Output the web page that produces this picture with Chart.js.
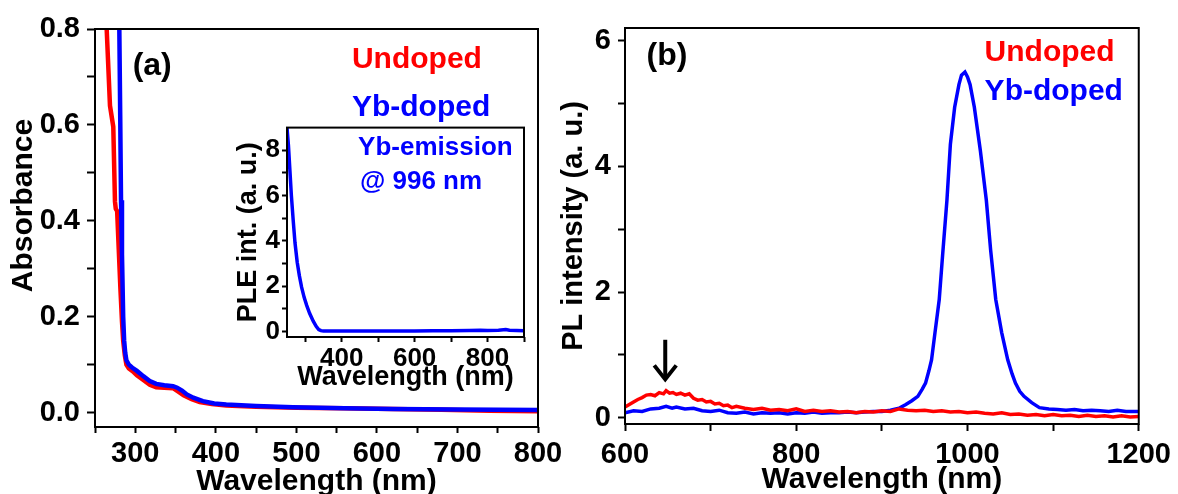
<!DOCTYPE html>
<html>
<head>
<meta charset="utf-8">
<script src="https://cdn.jsdelivr.net/npm/chart.js@4.4.0/dist/chart.umd.min.js"></script>
<style>
  body { margin: 0; background: #fff; }
  #wrap { position: relative; width: 1178px; height: 494px; overflow: hidden; background: #fff; }
  canvas { position: absolute; }
</style>
</head>
<body>
<div id="wrap">
  <canvas id="absChart" width="600" height="494" style="left:0px;top:0px"></canvas>
  <canvas id="pleChart" width="310" height="285" style="left:226px;top:110px"></canvas>
  <canvas id="plChart" width="618" height="494" style="left:560px;top:0px"></canvas>
</div>
<script>
// (a) absorbance, wavelength in nm
var absUndopedX = [261, 264.5, 268.6, 272.7, 274.8, 275.8, 277.5, 279.5, 281.5, 283.5, 285, 287, 289, 292, 297, 302, 310, 318, 326, 336, 347, 353, 360, 370, 380, 395, 413, 450, 500, 560, 620, 680, 740, 800];
var absUndopedY = [0.95, 0.80, 0.64, 0.596, 0.44, 0.425, 0.42, 0.34, 0.26, 0.19, 0.15, 0.12, 0.10, 0.092, 0.086, 0.078, 0.068, 0.058, 0.053, 0.052, 0.051, 0.044, 0.036, 0.028, 0.022, 0.018, 0.015, 0.012, 0.010, 0.009, 0.0077, 0.006, 0.004, 0.003];
var absYbX = [279, 280.2, 281.3, 282.3, 283.5, 285, 286.2, 287.5, 289, 292, 296, 302, 310, 318, 326, 336, 347, 352, 358, 364, 372, 384, 398, 413, 450, 496, 560, 620, 700, 800];
var absYbY = [0.95, 0.80, 0.62, 0.443, 0.33, 0.20, 0.15, 0.125, 0.109, 0.10, 0.094, 0.087, 0.076, 0.066, 0.06, 0.057, 0.055, 0.052, 0.046, 0.038, 0.031, 0.024, 0.019, 0.017, 0.014, 0.011, 0.009, 0.0077, 0.0066, 0.0056];

// inset: PLE monitored at 996 nm
var pleX = [250, 254, 258, 262, 267, 272, 278, 284, 290, 297, 304, 312, 322, 330, 337, 343, 350, 380, 420, 460, 500, 550, 600, 650, 700, 750, 780, 800, 830, 850, 860, 880, 900];
var pleY = [9.0, 8.2, 7.1, 6.0, 4.9, 3.9, 3.05, 2.45, 1.95, 1.5, 1.15, 0.8, 0.45, 0.22, 0.08, 0.03, 0.02, 0.02, 0.01, 0.02, 0.01, 0.02, 0.02, 0.03, 0.03, 0.04, 0.05, 0.04, 0.05, 0.08, 0.05, 0.04, 0.03];

// (b) PL intensity
var plUndopedX = [600, 605, 610, 615, 620, 625, 630, 635, 640, 645, 648, 652, 656, 660, 665, 670, 675, 680, 685, 690, 695, 700, 705, 710, 715, 720, 725, 730, 740, 750, 760, 770, 780, 790, 800, 810, 820, 830, 840, 850, 860, 870, 880, 890, 900, 910, 920, 930, 940, 950, 960, 970, 980, 990, 1000, 1010, 1020, 1030, 1040, 1050, 1060, 1070, 1080, 1090, 1100, 1110, 1120, 1130, 1140, 1150, 1160, 1170, 1180, 1190, 1200];
var plUndopedY = [0.17, 0.21, 0.25, 0.29, 0.32, 0.36, 0.37, 0.35, 0.40, 0.38, 0.43, 0.39, 0.40, 0.37, 0.39, 0.36, 0.38, 0.31, 0.28, 0.29, 0.25, 0.26, 0.22, 0.23, 0.19, 0.20, 0.16, 0.18, 0.15, 0.13, 0.15, 0.12, 0.13, 0.11, 0.14, 0.10, 0.12, 0.10, 0.11, 0.09, 0.10, 0.08, 0.10, 0.09, 0.11, 0.10, 0.14, 0.12, 0.11, 0.12, 0.10, 0.11, 0.09, 0.10, 0.08, 0.09, 0.07, 0.06, 0.08, 0.05, 0.06, 0.04, 0.05, 0.03, 0.05, 0.03, 0.04, 0.02, 0.04, 0.02, 0.03, 0.01, 0.03, 0.01, 0.02];
var plYbX = [600, 610, 620, 630, 640, 648, 655, 660, 670, 680, 690, 700, 710, 720, 730, 740, 750, 760, 770, 780, 790, 800, 810, 820, 830, 840, 850, 860, 870, 880, 890, 900, 910, 920, 928, 935, 942, 947, 951, 955, 958, 962, 967, 971, 976, 980, 985, 990, 993, 997, 1000, 1003, 1008, 1015, 1022, 1027, 1033, 1040, 1047, 1052, 1056, 1061, 1066, 1075, 1084, 1095, 1105, 1115, 1125, 1135, 1145, 1155, 1165, 1175, 1185, 1200];
var plYbY = [0.08, 0.11, 0.10, 0.14, 0.15, 0.18, 0.15, 0.17, 0.14, 0.15, 0.11, 0.10, 0.12, 0.08, 0.07, 0.09, 0.06, 0.08, 0.07, 0.08, 0.06, 0.08, 0.07, 0.09, 0.07, 0.08, 0.08, 0.09, 0.08, 0.09, 0.10, 0.10, 0.12, 0.15, 0.21, 0.27, 0.34, 0.45, 0.55, 0.75, 0.92, 1.35, 1.88, 2.60, 3.46, 4.35, 4.94, 5.30, 5.45, 5.50, 5.42, 5.30, 4.94, 4.25, 3.46, 2.67, 1.88, 1.35, 0.92, 0.70, 0.55, 0.42, 0.34, 0.24, 0.16, 0.14, 0.13, 0.12, 0.13, 0.11, 0.12, 0.11, 0.10, 0.12, 0.10, 0.10];

// ticks (all tick marks) and the ones that carry a label
var absXTicks = [250, 300, 350, 400, 450, 500, 550, 600, 650, 700, 750, 800];
var absXLabeled = [300, 400, 500, 600, 700, 800];
var absYTicks = [0, 0.1, 0.2, 0.3, 0.4, 0.5, 0.6, 0.7, 0.8];
var absYLabeled = [0, 0.2, 0.4, 0.6, 0.8];
var pleXTicks = [300, 400, 500, 600, 700, 800, 900];
var pleXLabeled = [400, 600, 800];
var pleYTicks = [0, 1, 2, 3, 4, 5, 6, 7, 8];
var pleYLabeled = [0, 2, 4, 6, 8];
var plXTicks = [600, 700, 800, 900, 1000, 1100, 1200];
var plXLabeled = [600, 800, 1000, 1200];
var plYTicks = [0, 1, 2, 3, 4, 5, 6];
var plYLabeled = [0, 2, 4, 6];

var FONT = 'Arial, "Liberation Sans", sans-serif';
var RED = '#ff0000';
var BLUE = '#0000ff';

Chart.defaults.font.family = FONT;
Chart.defaults.font.weight = 'bold';
Chart.defaults.color = '#000';

function pairs(xs, ys) {
    return xs.map(function (x, i) { return { x: x, y: ys[i] }; });
}

function line(xs, ys, color, width) {
    return {
        data: pairs(xs, ys),
        showLine: true,
        borderColor: color,
        backgroundColor: color,
        borderWidth: width,
        pointRadius: 0,
        tension: 0
    };
}

// one axis: fixed tick list, labels only on some of them
function axis(o) {
    return {
        type: 'linear',
        min: o.min,
        max: o.max,
        afterBuildTicks: function (s) {
            s.ticks = o.ticks.map(function (v) { return { value: v }; });
        },
        afterFit: function (s) {
            if (o.width !== undefined) s.width = o.width;
            if (o.height !== undefined) s.height = o.height;
        },
        border: { display: false },
        grid: {
            drawOnChartArea: false,
            drawTicks: true,
            tickLength: o.tickLength,
            tickColor: '#000',
            tickWidth: 2
        },
        ticks: {
            autoSkip: false,
            maxRotation: 0,
            padding: o.pad,
            color: '#000',
            font: { size: o.size, weight: 'bold' },
            callback: function (v) {
                return o.labeled.indexOf(v) >= 0 ? o.fmt(v) : '';
            }
        },
        title: o.title ? {
            display: true,
            text: o.title,
            color: '#000',
            font: { size: o.titleSize, weight: 'bold' },
            padding: o.titlePad
        } : { display: false }
    };
}

var framePlugin = {
    id: 'frame',
    afterDatasetsDraw: function (chart) {
        var a = chart.chartArea;
        var ctx = chart.ctx;
        ctx.save();
        ctx.lineWidth = 2;
        ctx.strokeStyle = '#000';
        ctx.strokeRect(a.left, a.top, a.right - a.left, a.bottom - a.top);
        ctx.restore();
    }
};

// text labels and the arrow, placed through the chart's own scales
var notesPlugin = {
    id: 'notes',
    afterDraw: function (chart, args, opts) {
        var ctx = chart.ctx;
        var xs = chart.scales.x;
        var ys = chart.scales.y;
        (opts.items || []).forEach(function (it) {
            var px = it.px !== undefined ? it.px : xs.getPixelForValue(it.x);
            var py = it.py !== undefined ? it.py : ys.getPixelForValue(it.y);
            ctx.save();
            if (it.arrow) {
                var py2 = ys.getPixelForValue(it.y2);
                ctx.strokeStyle = '#000';
                ctx.lineWidth = 4;
                ctx.lineCap = 'butt';
                ctx.beginPath();
                ctx.moveTo(px, py);
                ctx.lineTo(px, py2 - 2);
                ctx.stroke();
                ctx.beginPath();
                ctx.moveTo(px - 11, py2 - 14);
                ctx.lineTo(px, py2);
                ctx.lineTo(px + 11, py2 - 14);
                ctx.stroke();
            } else {
                ctx.translate(px, py);
                if (it.rot) ctx.rotate(it.rot);
                ctx.font = 'bold ' + it.size + 'px ' + FONT;
                ctx.fillStyle = it.color || '#000';
                ctx.textAlign = it.align || 'center';
                ctx.textBaseline = 'middle';
                ctx.fillText(it.text, 0, 0);
            }
            ctx.restore();
        });
    }
};

function fmt1(v) { return v.toFixed(1); }
function fmt0(v) { return String(v); }

// panel (a)
new Chart(document.getElementById('absChart'), {
    type: 'scatter',
    data: {
        datasets: [
            line(absYbX, absYbY, BLUE, 4.5),
            line(absUndopedX, absUndopedY, RED, 4.5)
        ]
    },
    options: {
        responsive: false,
        animation: false,
        layout: { padding: { top: 29, right: 62, left: 0, bottom: 0 } },
        scales: {
            x: axis({ min: 250, max: 800, ticks: absXTicks, labeled: absXLabeled, fmt: fmt0,
                      height: 67, tickLength: 6, pad: 4, size: 29,
                      title: 'Wavelength (nm)', titleSize: 30, titlePad: { top: 0, bottom: -6 } }),
            y: axis({ min: -0.03, max: 0.8, ticks: absYTicks, labeled: absYLabeled, fmt: fmt1,
                      width: 95, tickLength: 8, pad: 7, size: 29 })
        },
        plugins: {
            legend: { display: false },
            tooltip: { enabled: false },
            notes: {
                items: [
                    { text: 'Absorbance', px: 24, y: 0.432, size: 30, rot: -Math.PI / 2 },
                    { text: '(a)', x: 321, y: 0.723, size: 32 },
                    { text: 'Undoped', x: 569, y: 0.735, size: 30, color: RED, align: 'left' },
                    { text: 'Yb-doped', x: 569, y: 0.635, size: 30, color: BLUE, align: 'left' }
                ]
            }
        }
    },
    plugins: [framePlugin, notesPlugin]
});

// inset of (a)
new Chart(document.getElementById('pleChart'), {
    type: 'scatter',
    data: {
        datasets: [line(pleX, pleY, BLUE, 3.5)]
    },
    options: {
        responsive: false,
        animation: false,
        layout: { padding: { top: 13, right: 12, left: 0, bottom: 0 } },
        scales: {
            x: axis({ min: 250, max: 900, ticks: pleXTicks, labeled: pleXLabeled, fmt: fmt0,
                      height: 58, tickLength: 5, pad: 1, size: 26,
                      title: 'Wavelength (nm)', titleSize: 27, titlePad: { top: 0, bottom: 1 } }),
            y: axis({ min: -0.25, max: 9, ticks: pleYTicks, labeled: pleYLabeled, fmt: fmt0,
                      width: 61, tickLength: 5, pad: 2, size: 26,
                      title: 'PLE int. (a. u.)', titleSize: 27, titlePad: { top: 6, bottom: 0 } })
        },
        plugins: {
            legend: { display: false },
            tooltip: { enabled: false },
            notes: {
                items: [
                    { text: 'Yb-emission', x: 445, y: 8.12, size: 26, color: BLUE, align: 'left' },
                    { text: '@ 996 nm', x: 450, y: 6.6, size: 26, color: BLUE, align: 'left' }
                ]
            }
        }
    },
    plugins: [framePlugin, notesPlugin]
});

// panel (b)
new Chart(document.getElementById('plChart'), {
    type: 'scatter',
    data: {
        datasets: [
            line(plUndopedX, plUndopedY, RED, 3.5),
            line(plYbX, plYbY, BLUE, 3.5)
        ]
    },
    options: {
        responsive: false,
        animation: false,
        layout: { padding: { top: 28, right: 36, left: 0, bottom: 0 } },
        scales: {
            x: axis({ min: 600, max: 1200, ticks: plXTicks, labeled: plXLabeled, fmt: fmt0,
                      height: 70, tickLength: 7, pad: 7, size: 29,
                      title: 'Wavelength (nm)', titleSize: 30, titlePad: { top: 0, bottom: -4 } }),
            y: axis({ min: -0.1, max: 6.2, ticks: plYTicks, labeled: plYLabeled, fmt: fmt0,
                      width: 65, tickLength: 7, pad: 7, size: 29,
                      title: 'PL intensity (a. u.)', titleSize: 29, titlePad: { top: -3, bottom: 0 } })
        },
        plugins: {
            legend: { display: false },
            tooltip: { enabled: false },
            notes: {
                items: [
                    { text: '(b)', x: 649, y: 5.75, size: 32 },
                    { text: 'Undoped', x: 1020, y: 5.81, size: 30, color: RED, align: 'left' },
                    { text: 'Yb-doped', x: 1020, y: 5.18, size: 30, color: BLUE, align: 'left' },
                    { arrow: true, x: 647, y: 1.24, y2: 0.61 }
                ]
            }
        }
    },
    plugins: [framePlugin, notesPlugin]
});
</script>
</body>
</html>
